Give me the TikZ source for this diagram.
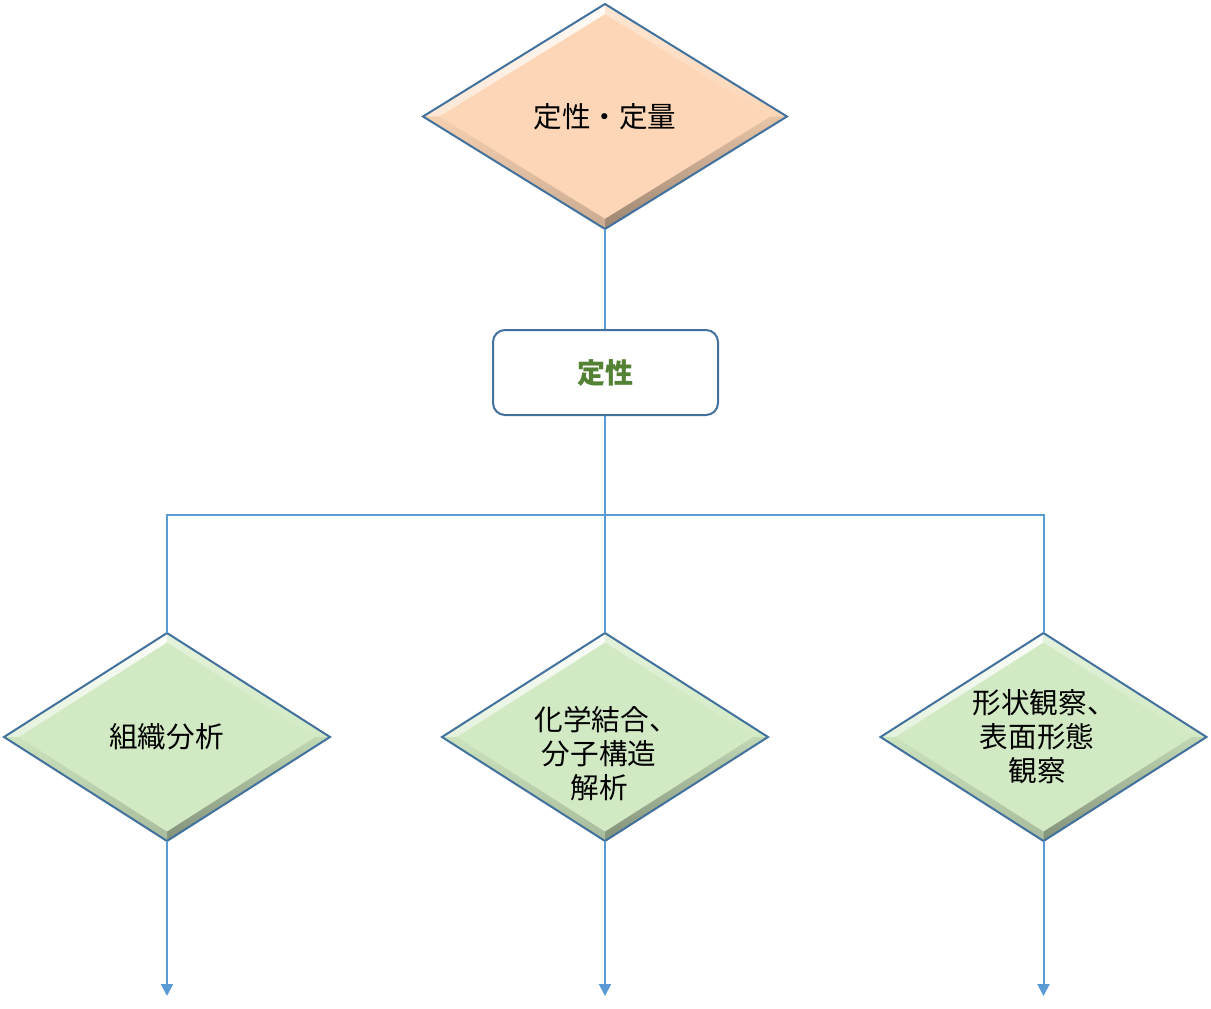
\documentclass[tikz,border=0pt]{standalone}
\usepackage{fontspec}
\setmainfont{Noto Sans CJK JP}
\usetikzlibrary{shapes.geometric,arrows.meta,calc}
\definecolor{peach}{RGB}{252,214,182}
\definecolor{mint}{RGB}{210,234,196}
\definecolor{edgeblue}{RGB}{65,113,156}
\definecolor{linkblue}{RGB}{91,155,213}
\definecolor{txtgreen}{RGB}{84,130,53}
\tikzset{
  dia/.style={diamond, inner sep=0pt, outer sep=0pt, draw=none},
  edgeline/.style={draw=edgeblue, line width=2pt, line join=miter},
  link/.style={draw=linkblue, line width=2pt},
  linkarrow/.style={link, -{Triangle[width=12pt,length=12pt]}},
  lbl/.style={font=\fontsize{28.6}{34}\selectfont, align=center, text=black, inner sep=0pt},
  qbox/.style={draw=edgeblue, line width=2pt, fill=white, rounded corners=12pt,
    minimum width=225pt, minimum height=85pt, inner sep=0pt, outer sep=0pt,
    font=\fontsize{28}{34}\selectfont\bfseries, text=txtgreen}
}
\newcommand\bevelize[2]{%
  \coordinate (#1-in-n) at ($(#1.center)!0.91!(#1.north)$);
  \coordinate (#1-in-e) at ($(#1.center)!0.91!(#1.east)$);
  \coordinate (#1-in-s) at ($(#1.center)!0.91!(#1.south)$);
  \coordinate (#1-in-w) at ($(#1.center)!0.91!(#1.west)$);
  \shade[top color=white!92!#2, bottom color=white!40!#2]
    (#1.west) -- (#1.north) -- (#1-in-n) -- (#1-in-w) -- cycle;
  \shade[top color=white!40!#2, bottom color=#2]
    (#1.north) -- (#1.east) -- (#1-in-e) -- (#1-in-n) -- cycle;
  \shade[top color=#2!92!black, bottom color=#2!62!black]
    (#1.east) -- (#1.south) -- (#1-in-s) -- (#1-in-e) -- cycle;
  \shade[top color=#2!97!black, bottom color=#2!80!black]
    (#1.south) -- (#1.west) -- (#1-in-w) -- (#1-in-s) -- cycle;
  \draw[edgeline] (#1.north) -- (#1.east) -- (#1.south) -- (#1.west) -- cycle;
}
\begin{document}
\begin{tikzpicture}[x=1pt,y=-1pt]
\useasboundingbox (0,0) rectangle (1211,1009);

% shapes
\node[dia, fill=peach, minimum width=364pt, minimum height=225pt] (top) at (605,116.5) {};
\bevelize{top}{peach}
\node[lbl] (toptext) at (605,116.5) {定性・定量};

\node[dia, fill=mint, minimum width=326pt, minimum height=208pt] (d1) at (167,737) {};
\bevelize{d1}{mint}
\node[dia, fill=mint, minimum width=326pt, minimum height=208pt] (d2) at (605,737) {};
\bevelize{d2}{mint}
\node[dia, fill=mint, minimum width=326pt, minimum height=208pt] (d3) at (1043.5,737) {};
\bevelize{d3}{mint}

\node[lbl] (t1) at (166.5,737) {組織分析};
\node[lbl] (t2) at (599,754) {化学結合\makebox[0.5em][l]{、}\\分子構造\\解析};
\node[lbl] (t3) at (1037,737) {形状観察\makebox[0.5em][l]{、}\\表面形態\\観察};

% connectors
\coordinate (j) at (605,515);
\coordinate (e1) at (167,996);
\coordinate (e2) at (605,996);
\coordinate (e3) at (1043.5,996);
\draw[link] (top.south) -- (605,330);
\draw[link] (605,415) -- (j);
\draw[link] (j) -| (d1.north);
\draw[link] (j) -- (d2.north);
\draw[link] (j) -| (d3.north);
\draw[linkarrow] (d1.south) -- (e1);
\draw[linkarrow] (d2.south) -- (e2);
\draw[linkarrow] (d3.south) -- (e3);

\node[qbox] (q) at (605.5,372.5) {定性};
\end{tikzpicture}
\end{document}
